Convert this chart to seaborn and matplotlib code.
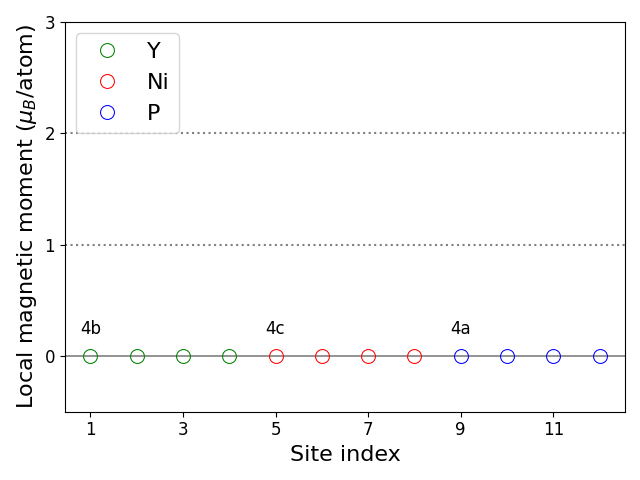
import matplotlib
matplotlib.use("Agg")
import matplotlib.pyplot as plt
import seaborn as sns
import pandas as pd

species = ["Y", "Ni", "P"]
colors = ["green", "red", "blue"]
site_index = [[1, 2, 3, 4], [5, 6, 7, 8], [9, 10, 11, 12]]
moments = [[0, 0, 0, 0], [0, 0, 0, 0], [0, 0, 0, 0]]
wyckoff_labels = ["4b", "4c", "4a"]
wyckoff_sites = [1, 5, 9]

fig, ax = plt.subplots(figsize=(6.4, 4.8), dpi=100)

for sp, col, xs, ys in zip(species, colors, site_index, moments):
    df = pd.DataFrame({"site": xs, "moment": ys})
    sns.lineplot(data=df, x="site", y="moment", ax=ax, linestyle="", marker="o",
                 markersize=10, markerfacecolor="none", markeredgecolor=col,
                 color=col, label=sp)

ax.axhline(0, color="gray", linestyle="-", linewidth=1.2, zorder=0)
for yv in [1, 2]:
    ax.axhline(yv, color="gray", linestyle=":", linewidth=1.5, zorder=0)

for lab, xs in zip(wyckoff_labels, wyckoff_sites):
    ax.text(xs, 0.16, lab, ha="center", va="bottom", fontsize=12)

ax.set_xlim(0.45, 12.55)
ax.set_ylim(-0.5, 3)
ax.set_xticks([1, 3, 5, 7, 9, 11])
ax.set_yticks([0, 1, 2, 3])
ax.tick_params(labelsize=12)
ax.set_xlabel("Site index", fontsize=16)
ax.set_ylabel(r"Local magnetic moment ($\mu_B$/atom)", fontsize=16)
ax.legend(loc="upper left", fontsize=16)
fig.tight_layout()
fig.savefig("out.png", dpi=100)
